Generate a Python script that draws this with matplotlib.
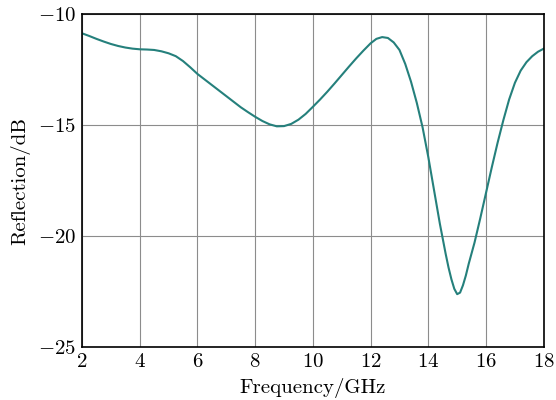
import matplotlib
matplotlib.use("Agg")
import matplotlib.pyplot as plt

# reflection loss of the absorber, sampled across the band
freq_ghz = [2.0, 2.25, 2.5, 2.75, 3.0, 3.25, 3.5, 3.75, 4.0, 4.25, 4.5,
            4.75, 5.0, 5.25, 5.5, 5.75, 6.0, 6.25, 6.5, 6.75, 7.0, 7.25,
            7.5, 7.75, 8.0, 8.25, 8.5, 8.75, 9.0, 9.25, 9.5, 9.75, 10.0,
            10.25, 10.5, 10.75, 11.0, 11.25, 11.5, 11.75, 12.0, 12.2, 12.4,
            12.6, 12.8, 13.0, 13.2, 13.4, 13.6, 13.8, 14.0, 14.2, 14.4,
            14.6, 14.7, 14.8, 14.9, 15.0, 15.1, 15.2, 15.3, 15.4, 15.6,
            15.8, 16.0, 16.2, 16.4, 16.6, 16.8, 17.0, 17.2, 17.4, 17.6,
            17.8, 18.0]
reflection_db = [-10.87, -10.99, -11.12, -11.24, -11.35, -11.44, -11.51,
                 -11.56, -11.59, -11.60, -11.62, -11.68, -11.77, -11.90,
                 -12.12, -12.40, -12.70, -12.95, -13.20, -13.45, -13.70,
                 -13.95, -14.20, -14.42, -14.63, -14.82, -14.97, -15.06,
                 -15.05, -14.95, -14.76, -14.50, -14.18, -13.85, -13.50,
                 -13.13, -12.75, -12.37, -12.00, -11.65, -11.32, -11.12,
                 -11.04, -11.08, -11.28, -11.62, -12.25, -13.05, -14.00,
                 -15.10, -16.45, -17.95, -19.45, -20.80, -21.42, -21.95,
                 -22.38, -22.62, -22.55, -22.22, -21.78, -21.25, -20.30,
                 -19.20, -18.05, -16.90, -15.80, -14.78, -13.85, -13.10,
                 -12.55, -12.17, -11.90, -11.70, -11.56]

x_ticks = [2, 4, 6, 8, 10, 12, 14, 16, 18]
y_ticks = [-25, -20, -15, -10]

plt.rcParams["font.family"] = "cmr10"
plt.rcParams["mathtext.fontset"] = "cm"
plt.rcParams["axes.formatter.use_mathtext"] = True
plt.rcParams["font.size"] = 15

fig, ax = plt.subplots(figsize=(5.56, 4.0), dpi=100)
fig.subplots_adjust(left=0.1475, right=0.978, top=0.965, bottom=0.1325)

ax.plot(freq_ghz, reflection_db, color="#25807c", linewidth=1.5)

ax.set_xlim(2, 18)
ax.set_ylim(-25, -10)
ax.set_xticks(x_ticks)
ax.set_yticks(y_ticks)
ax.grid(True, color="#8c8c8c", linewidth=0.8)
ax.set_axisbelow(True)
ax.tick_params(direction="in", length=0, pad=4)
for spine in ax.spines.values():
    spine.set_linewidth(1.2)

ax.set_xlabel("Frequency/GHz", labelpad=5)
ax.set_ylabel("Reflection/dB", labelpad=6)

fig.savefig("out.png", dpi=100)
